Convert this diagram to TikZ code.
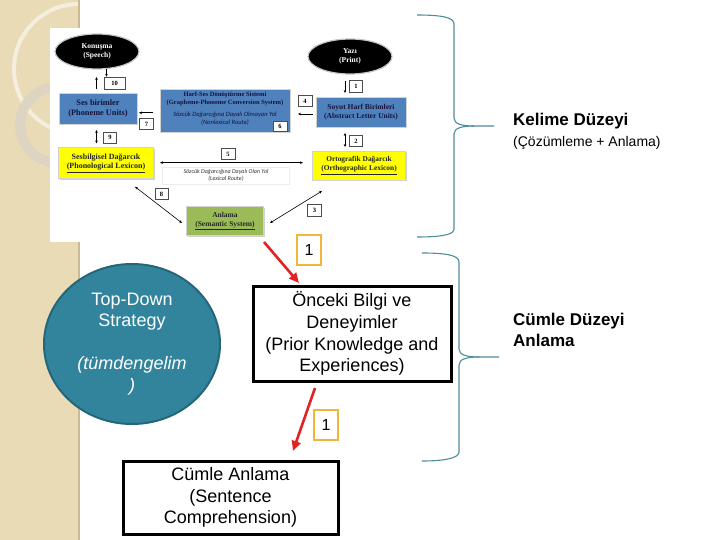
\documentclass[tikz,border=0pt]{standalone}
\usepackage{fontspec}
\setmainfont{Liberation Sans}
\newfontfamily\tms{Liberation Serif}
\newfontfamily\carfont{Carlito}
\usetikzlibrary{arrows.meta,shapes.geometric,shadows}
\definecolor{stripe}{HTML}{EADBB7}
\definecolor{stripeedge}{HTML}{CDBA90}
\definecolor{ringc}{HTML}{DDD4C2}
\definecolor{boxblue}{HTML}{4F81BD}
\definecolor{boxyellow}{HTML}{FFFF00}
\definecolor{boxgreen}{HTML}{9BBB59}
\definecolor{tdfill}{HTML}{31849B}
\definecolor{tdedge}{HTML}{24677A}
\definecolor{goldc}{HTML}{F2B53A}
\definecolor{bracec}{HTML}{4F8C9E}
\definecolor{redc}{HTML}{E32222}
\definecolor{navytext}{HTML}{14143C}
\begin{document}
\begin{tikzpicture}[x=1pt,y=-1pt,
  innerbox/.style={draw=gray!35, line width=0.6pt, inner sep=0pt, align=center,
    drop shadow={opacity=0.35,shadow xshift=1.2pt,shadow yshift=-1.2pt}},
  bluebox/.style={innerbox, fill=boxblue, text=navytext},
  yellowbox/.style={innerbox, fill=boxyellow, text=black!85},
  greenbox/.style={innerbox, fill=boxgreen, text=black!85},
  numbox/.style={draw=black!70, fill=white, line width=0.5pt, inner sep=0pt,
    font=\tms\bfseries\fontsize{6.5}{7}\selectfont,
    drop shadow={opacity=0.25,shadow xshift=0.8pt,shadow yshift=-0.8pt}},
  oval/.style={ellipse, fill=black, draw=gray!45, line width=1.2pt, text=white,
    inner sep=0pt, align=center, minimum width=84pt, minimum height=35pt,
    font=\tms\bfseries\fontsize{7.5}{9.3}\selectfont},
  thinarr/.style={-{Stealth[length=3pt,width=2.6pt]}, line width=0.6pt},
  dblarr/.style={{Stealth[length=3pt,width=2.6pt]}-{Stealth[length=3pt,width=2.6pt]}, line width=0.6pt},
  bigbox/.style={draw=black, line width=3pt, fill=white, align=center, inner sep=0pt,
    font=\fontsize{18}{21.7}\selectfont},
  goldbox/.style={draw=goldc, line width=2.5pt, fill=white, inner sep=0pt,
    minimum width=24pt, minimum height=30pt, font=\fontsize{16}{18}\selectfont},
  redarr/.style={draw=redc, line width=2.6pt, -{Triangle[length=10pt,width=9pt]}},
  bracestyle/.style={draw=bracec, line width=1.1pt},
  label/.style={anchor=west, inner sep=0pt, align=left}]
\useasboundingbox (0,0) rectangle (720,540);
\fill[white] (0,0) rectangle (720,540);
% left stripe
\fill[stripe] (0,0) rectangle (79,540);
\begin{scope}
  \clip (0,0) rectangle (78,540);
  \draw[white, opacity=0.55, line width=4pt] (79,69) circle[radius=65pt];
  \draw[ringc, line width=10pt] (58,125) circle[radius=38pt];
\end{scope}
\draw[stripeedge, line width=1.6pt] (79,0) -- (79,540);
% embedded diagram background
\fill[white] (50,28) rectangle (440,242);

% ---- inner diagram ----
\node[oval] (speech) at (97,51.5) {Konuşma\\(Speech)};
\node[oval] (print) at (350,56.5) {Yazı\\(Print)};

\node[bluebox, minimum width=78pt, minimum height=31pt,
  font=\tms\bfseries\fontsize{8.3}{10.5}\selectfont] (phon) at (98,108.5)
  {Ses birimler\\(Phoneme Units)};
\node[bluebox, minimum width=130pt, minimum height=43pt] (gpc) at (225,110.5) {};
\node[align=center, inner sep=0pt, text=navytext,
  font=\tms\bfseries\fontsize{6.5}{7.7}\selectfont] (gpct) at (225,98.8)
  {Harf-Ses Dönüştürme Sistemi\\(Grapheme-Phoneme Conversion System)};
\node[align=center, inner sep=0pt, text=navytext,
  font=\carfont\itshape\fontsize{6.5}{7.7}\selectfont] (gpci) at (225,118.8)
  {Sözcük Dağarcığına Dayalı Olmayan Yol\\(Nonlexical Route)};
\node[bluebox, minimum width=90pt, minimum height=30pt,
  font=\tms\bfseries\fontsize{7.5}{9.3}\selectfont] (alu) at (361,112)
  {Soyut Harf Birimleri\\(Abstract Letter Units)};

\node[yellowbox, minimum width=95pt, minimum height=31pt,
  font=\tms\bfseries\fontsize{8}{9.5}\selectfont] (plex) at (106,163)
  {Sesbilgisel Dağarcık\\\underline{(Phonological Lexicon)}};
\node[yellowbox, minimum width=93pt, minimum height=29pt,
  font=\tms\bfseries\fontsize{7.4}{9.3}\selectfont] (olex) at (359,165.5)
  {Ortografik Dağarcık\\\underline{(Orthographic Lexicon)}};
\node[draw=gray!15, fill=white, minimum width=127pt, minimum height=17pt, inner sep=0pt,
  align=center, text=black!80, font=\carfont\itshape\fontsize{6}{7.3}\selectfont] (lex) at (226,175.5)
  {Sözcük Dağarcığına Dayalı Olan Yol\\(Lexical Route)};
\node[greenbox, minimum width=77pt, minimum height=29pt,
  font=\tms\bfseries\fontsize{7.5}{9.3}\selectfont] (sem) at (225,221)
  {Anlama\\\underline{(Semantic System)}};

% number boxes
\node[numbox, minimum width=21pt, minimum height=12pt] (n10) at (114.5,83) {10};
\node[numbox, minimum width=14pt, minimum height=11pt] (n7) at (146.5,124) {7};
\node[numbox, minimum width=14pt, minimum height=10pt] (n6) at (280,126.5) {6};
\node[numbox, minimum width=14pt, minimum height=11pt] (n4) at (305,101) {4};
\node[numbox, minimum width=13pt, minimum height=12pt] (n1) at (356,86) {1};
\node[numbox, minimum width=13pt, minimum height=11pt] (n2) at (356,141) {2};
\node[numbox, minimum width=13pt, minimum height=11pt] (n9) at (110,137.5) {9};
\node[numbox, minimum width=14pt, minimum height=11pt] (n5) at (228,154) {5};
\node[numbox, minimum width=13pt, minimum height=11pt] (n8) at (161.5,194) {8};
\node[numbox, minimum width=14pt, minimum height=12pt] (n3) at (314.5,210.5) {3};

% inner arrows
\coordinate (a10s) at (96.5,89);  \coordinate (a10e) at (96.5,77);
\coordinate (a7s) at (153,112.8); \coordinate (a7e) at (139,112.8);
\coordinate (a4s) at (313,114);   \coordinate (a4e) at (298,114);
\coordinate (a1s) at (345,81);    \coordinate (a1e) at (345,93);
\coordinate (a2s) at (345,133);   \coordinate (a2e) at (345,147);
\coordinate (a9s) at (96.5,130);  \coordinate (a9e) at (96.5,143.5);
\coordinate (a5s) at (160,162.7); \coordinate (a5e) at (303,162.7);
\coordinate (a8s) at (135,186.7); \coordinate (a8e) at (182,223);
\coordinate (a3s) at (270,223);   \coordinate (a3e) at (322,191);
\coordinate (sp10) at (106.5,69);
\draw[thinarr] (sp10) -- (sp10 |- n10.north);
\draw[thinarr] (a10s) -- (a10e);
\draw[thinarr] (a7s) -- (a7e);
\draw[thinarr] (a4s) -- (a4e);
\draw[thinarr] (a1s) -- (a1e);
\draw[dblarr] (a2s) -- (a2e);
\draw[dblarr] (a9s) -- (a9e);
\draw[dblarr] (a5s) -- (a5e);
\draw[dblarr] (a8s) -- (a8e);
\draw[dblarr] (a3s) -- (a3e);

% ---- lower part ----
\node[ellipse, fill=tdfill, draw=tdedge, line width=2pt, minimum width=176pt,
  minimum height=160pt, inner sep=0pt, align=center, text=white,
  font=\fontsize{18}{21.5}\selectfont] (td) at (132,344)
  {Top-Down\\Strategy\\\strut\\\textit{(tümdengelim}\\\textit{)}};

\node[bigbox, minimum width=198pt, minimum height=95pt] (prior) at (352,333.5)
  {Önceki Bilgi ve\\Deneyimler\\(Prior Knowledge and\\Experiences)};
\node[bigbox, minimum width=215pt, minimum height=73pt] (sent) at (230.5,497.5)
  {Cümle Anlama\\(Sentence\\Comprehension)};

\node[goldbox] (g1) at (309,250) {1};
\node[goldbox] (g2) at (326,425) {1};

\coordinate (r1s) at (264,242);
\coordinate (r1e) at (299,283);
\coordinate (r2s) at (315,388);
\coordinate (r2e) at (293,451);
\draw[redarr] (r1s) -- (r1e);
\draw[redarr] (r2s) -- (r2e);

% ---- braces ----
\draw[bracestyle] (417,15) .. controls (440,15) and (454,17) .. (454,24)
  -- (454,118) .. controls (454,124) and (462,126) .. (474,126) -- (494,126);
\draw[bracestyle] (474,126) .. controls (462,126) and (454,128) .. (454,134)
  -- (454,229) .. controls (454,235) and (440,237) .. (417,237);
\draw[bracestyle] (422,253) .. controls (445,253) and (459,255) .. (459,262)
  -- (459,349) .. controls (459,355) and (467,357) .. (479,357) -- (499,357);
\draw[bracestyle] (479,357) .. controls (467,357) and (459,359) .. (459,365)
  -- (459,452) .. controls (459,458) and (445,461) .. (422,461);

% ---- labels ----
\node[label, font=\bfseries\fontsize{17}{21}\selectfont] (kd) at (513,121.5) {Kelime Düzeyi};
\node[label, font=\fontsize{14}{16}\selectfont] (kd2) at (513,142.5) {(Çözümleme + Anlama)};
\node[label, font=\bfseries\fontsize{17}{21}\selectfont] (cd) at (513,329.5) {Cümle Düzeyi\\Anlama};
\end{tikzpicture}
\end{document}
